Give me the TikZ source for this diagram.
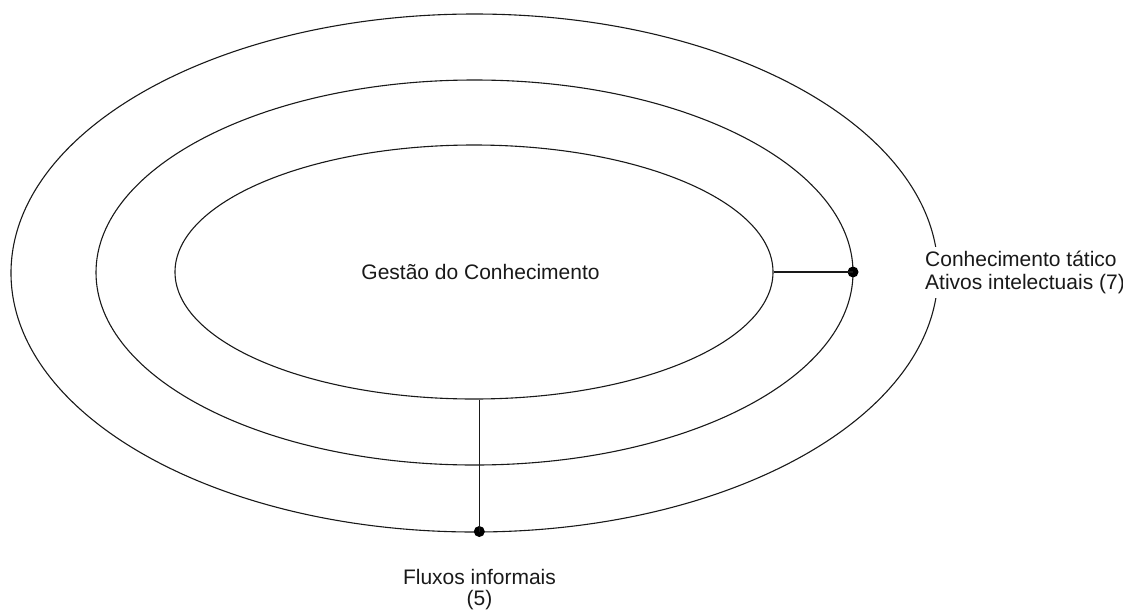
\documentclass[tikz,border=0pt]{standalone}
\usepackage{fontspec}
\setmainfont{Liberation Sans}
\usetikzlibrary{shapes.geometric}
\begin{document}
\begin{tikzpicture}[x=1pt,y=-1pt,
  ring/.style={draw=black!90, line width=1.1pt, ellipse, inner sep=0pt},
  conn/.style={draw=black!90, line width=1.1pt},
  blob/.style={circle, fill=black, inner sep=0pt, minimum size=11pt},
  lbl/.style={font=\fontsize{21}{22.5}\selectfont, text=black!90, inner sep=0pt}]
\useasboundingbox (0,0) rectangle (1123,611);
\node[ring, minimum width=927pt, minimum height=518pt] (outer) at (474.5,273) {};
\node[ring, minimum width=757pt, minimum height=385pt] (middle) at (474.5,272.5) {};
\node[ring, minimum width=598pt, minimum height=254pt] (inner) at (474,272) {};
\node[lbl, anchor=base] (gc) at (480.5,279) {Gestão do Conhecimento};
\node[blob] (d1) at (853,272) {};
\node[blob] (d2) at (479.3,531.5) {};
\draw[conn] (inner.east) -- (d1.center);
\draw[conn] (inner.south -| d2) -- (d2.center);
\node[lbl, anchor=north west, align=left, fill=white, inner xsep=2pt, inner ysep=4pt] (tac) at (923,247) {Conhecimento tático\\Ativos intelectuais (7)};
\node[lbl, font=\fontsize{21}{21.5}\selectfont, anchor=north, align=center] (flx) at (479.5,569) {Fluxos informais\\(5)};
\end{tikzpicture}
\end{document}
